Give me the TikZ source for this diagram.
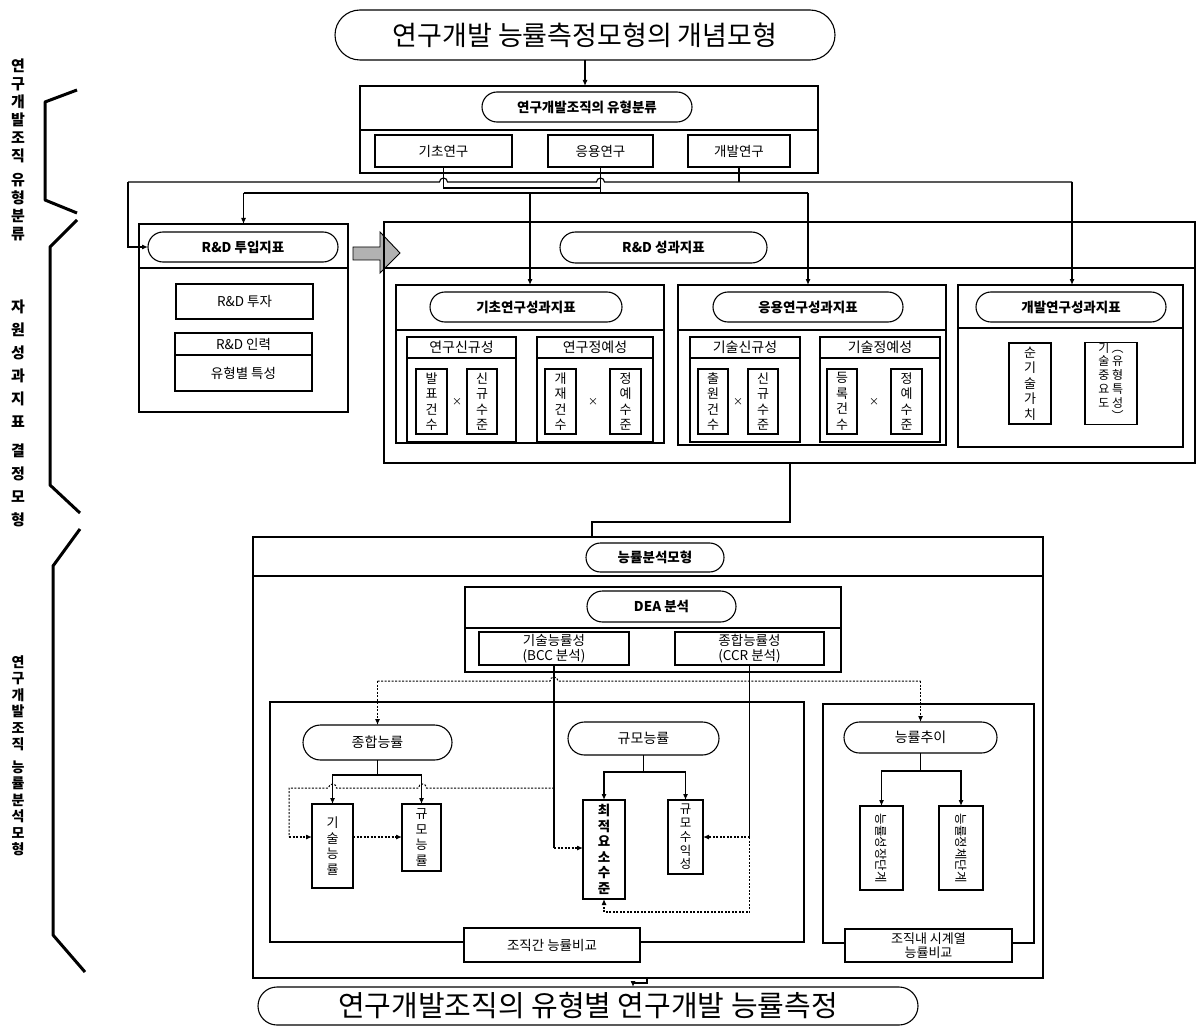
\documentclass[tikz,border=0pt]{standalone}
\usepackage{fontspec}
\setmainfont{Noto Sans CJK KR}
\usetikzlibrary{shapes.misc,arrows.meta}

\newcommand{\rb}[7][]{%
 \pgfmathsetmacro\rbX{(#3+#5)/2}%
 \pgfmathsetmacro\rbY{(#4+#6)/2}%
 \pgfmathsetmacro\rbW{#5-#3}%
 \pgfmathsetmacro\rbH{#6-#4}%
 \node[bx,minimum width=\rbW pt,minimum height=\rbH pt,#1] (#2) at (\rbX,\rbY) {#7};}

\tikzset{
 bx/.style={draw, line width=1.1pt, inner sep=0pt, outer sep=0pt, align=center, font=\fontsize{13.5}{15.5}\selectfont},
 pill/.style={rounded rectangle, font=\bfseries\fontsize{13.5}{15}\selectfont},
 vtx/.style={font=\fontsize{13}{15.5}\selectfont},
 arr/.style={-{Latex[length=6pt,width=5pt]}, line width=1.1pt},
 dsh/.style={dash pattern=on 2pt off 1.5pt, line width=1pt},
 ln/.style={line width=1.1pt},
 brk/.style={line width=3pt, line join=round},
 lab/.style={align=center, inner sep=0pt, font=\bfseries\fontsize{15}{17}\selectfont},
}

\begin{document}
\begin{tikzpicture}[x=1pt,y=-1pt]
\useasboundingbox (0,0) rectangle (1197,1027);
\fill[white] (0,0) rectangle (1197,1027);

% ---------- left labels and brackets ----------
\node[lab, font=\bfseries\fontsize{15}{18}\selectfont] (L1) at (18,150) {연\\구\\개\\발\\조\\직\\[6pt]유\\형\\분\\류};
\node[lab, font=\bfseries\fontsize{15}{23}\selectfont] (L2) at (18,413) {자\\원\\성\\과\\지\\표\\[6pt]결\\정\\모\\형};
\node[lab, font=\bfseries\fontsize{14}{16.5}\selectfont] (L3) at (18,756) {연\\구\\개\\발\\조\\직\\[6pt]능\\률\\분\\석\\모\\형};
\draw[brk] (77,90) -- (45,102) -- (45,200) -- (77,213);
\draw[brk] (77,220) -- (50,247) -- (50,485) -- (80,513);
\draw[brk] (80,529) -- (53,566) -- (53,935) -- (85,972);

% ---------- title ----------
\rb[pill,font=\fontsize{27}{30}\selectfont]{t0}{335}{10}{835}{60}{연구개발 능률측정모형의 개념모형}

% ---------- top box ----------
\rb{tb}{360}{86}{818}{173}{}
\draw[ln] (tb.west |- 0,130) -- (tb.east |- 0,130);
\rb[pill]{p1}{482}{92}{692}{122}{연구개발조직의 유형분류}
\rb{b1}{375}{135}{512}{167}{기초연구}
\rb{b2}{548}{135}{653}{167}{응용연구}
\rb{b3}{688}{135}{790}{167}{개발연구}
\draw[arr] (t0.south) -- (t0.south |- tb.north);

% ---------- R&D input box ----------
\rb{ib}{139}{224}{348}{412}{}
\draw[ln] (ib.west |- 0,268) -- (ib.east |- 0,268);
\rb[pill]{p2}{148}{232}{338}{262}{R\&D 투입지표}
\rb{i1}{176}{284}{313}{319}{R\&D 투자}
\rb{i2}{175}{333}{312}{391}{}
\draw[ln] (i2.west |- 0,355) -- (i2.east |- 0,355);
\node[font=\fontsize{13.5}{15}\selectfont] (i2a) at (243.5,344) {R\&D 인력};
\node[font=\fontsize{13.5}{15}\selectfont] (i2b) at (243.5,373) {유형별 특성};

% ---------- block arrow ----------
\filldraw[fill=black!30, draw=black, line width=0.9pt] (353,247) -- (380,247) -- (380,232) -- (400,253) -- (380,273) -- (380,260) -- (353,260) -- cycle;

% ---------- R&D output box ----------
\rb{ob}{384}{222}{1195}{463}{}
\draw[ln] (ob.west |- 0,268) -- (ob.east |- 0,268);
\rb[pill]{p3}{560}{232}{767}{263}{R\&D 성과지표}

% basic research
\rb{s1}{396}{285}{664}{443}{}
\draw[ln] (s1.west |- 0,330) -- (s1.east |- 0,330);
\rb[pill]{q1}{430}{292}{622}{322}{기초연구성과지표}
\rb{g11}{407}{337}{516}{442}{}
\draw[ln] (g11.west |- 0,358) -- (g11.east |- 0,358);
\node[font=\fontsize{14}{15}\selectfont] (g11t) at (461.5,347.5) {연구신규성};
\rb[vtx]{v111}{416}{369}{447}{434}{발\\표\\건\\수}
\rb[vtx]{v112}{467}{369}{497}{434}{신\\규\\수\\준}
\node (x11) at (457,402) {×};
\rb{g12}{537}{337}{653}{442}{}
\draw[ln] (g12.west |- 0,358) -- (g12.east |- 0,358);
\node[font=\fontsize{14}{15}\selectfont] (g12t) at (595,347.5) {연구정예성};
\rb[vtx]{v121}{545}{369}{576}{434}{개\\재\\건\\수}
\rb[vtx]{v122}{610}{369}{641}{434}{정\\예\\수\\준}
\node (x12) at (593,402) {×};

% applied research
\rb{s2}{678}{285}{946}{445}{}
\draw[ln] (s2.west |- 0,330) -- (s2.east |- 0,330);
\rb[pill]{q2}{713}{292}{903}{322}{응용연구성과지표}
\rb{g21}{690}{337}{800}{442}{}
\draw[ln] (g21.west |- 0,358) -- (g21.east |- 0,358);
\node[font=\fontsize{14}{15}\selectfont] (g21t) at (745,347.5) {기술신규성};
\rb[vtx]{v211}{698}{369}{728}{434}{출\\원\\건\\수}
\rb[vtx]{v212}{748}{369}{778}{434}{신\\규\\수\\준}
\node (x21) at (738,402) {×};
\rb{g22}{820}{337}{940}{442}{}
\draw[ln] (g22.west |- 0,358) -- (g22.east |- 0,358);
\node[font=\fontsize{14}{15}\selectfont] (g22t) at (880,347.5) {기술정예성};
\rb[vtx]{v221}{827}{369}{857}{434}{등\\록\\건\\수}
\rb[vtx]{v222}{891}{369}{922}{434}{정\\예\\수\\준}
\node (x22) at (874,402) {×};

% development research
\rb{s3}{958}{285}{1183}{447}{}
\draw[ln] (s3.west |- 0,328) -- (s3.east |- 0,328);
\rb[pill]{q3}{976}{292}{1166}{322}{개발연구성과지표}
\rb[vtx]{v31}{1009}{343}{1051}{424}{순\\기\\술\\가\\치}
\rb[font=\fontsize{12}{13}\selectfont]{v32}{1085}{343}{1137}{424}{\begin{tabular}{@{}c@{\hspace{2pt}}c@{}}기&︵\\술&유\\중&형\\요&특\\도&성\\ &︶\end{tabular}}

% ---------- top connectors ----------
\coordinate (aL) at (128,182);
\coordinate (aR) at (1072,182);
\draw[ln] (b3.south) -- (b3.south |- aL);
\draw[ln] (aL) -- (439.5,182) arc[start angle=180,end angle=0,radius=4pt] -- (596.5,182) arc[start angle=180,end angle=0,radius=4pt] -- (aR);
\draw[arr] (aL) |- (p2.west);
\draw[arr] (aR) -- (aR |- s3.north);
\draw[ln] (b1.south) |- (b2.south |- 0,188);
\draw[ln] (b2.south) -- (b2.south |- 0,193);
\coordinate (bL) at (243.5,193);
\coordinate (bR) at (808,193);
\draw[ln] (bL) -- (bR);
\draw[arr] (bL) -- (bL |- ib.north);
\draw[arr] (s1.north |- bL) -- (s1.north);
\draw[arr] (bR) -- (bR |- s2.north);

% ---------- efficiency analysis ----------
\rb{eb}{253}{537}{1043}{978}{}
\draw[ln] (eb.west |- 0,576) -- (eb.east |- 0,576);
\rb[pill]{pe}{586}{543}{724}{572}{능률분석모형}
\draw[ln] (ob.south -| 790,0) -- (790,522) -| (eb.north -| 592,0);

\rb{db}{465}{587}{841}{672}{}
\draw[ln] (db.west |- 0,628) -- (db.east |- 0,628);
\rb[pill]{pd}{587}{591}{736}{622}{DEA 분석}
\rb{bb}{479}{632}{629}{665}{기술능률성\\(BCC 분석)}
\rb{cb}{675}{632}{824}{665}{종합능률성\\(CCR 분석)}

\rb{lb}{270}{702}{804}{942}{}
\rb{rb}{823}{704}{1034}{943}{}

\rb[pill,font=\fontsize{14}{15}\selectfont]{pa}{303}{725}{452}{760}{종합능률}
\rb[vtx]{va1}{312}{804}{353}{888}{기\\술\\능\\률}
\rb[vtx]{va2}{402}{804}{441}{871}{규\\모\\능\\률}
\rb[pill,font=\fontsize{14}{15}\selectfont]{pb}{568}{722}{719}{755}{규모능률}
\rb[vtx,font=\bfseries\fontsize{13.5}{15.5}\selectfont]{vb1}{583}{800}{625}{899}{최\\적\\요\\소\\수\\준}
\rb[vtx,font=\fontsize{12.5}{13.8}\selectfont]{vb2}{668}{800}{703}{874}{규\\모\\수\\익\\성}
\rb[pill,font=\fontsize{14}{15}\selectfont]{pc}{844}{722}{997}{753}{능률추이}
\rb{vc1}{860}{806}{903}{890}{}
\rb{vc2}{939}{806}{983}{890}{}
\node[rotate=-90,font=\fontsize{12.5}{14}\selectfont] (vc1t) at (vc1) {능률성장단계};
\node[rotate=-90,font=\fontsize{12.5}{14}\selectfont] (vc2t) at (vc2) {능률정체단계};

\rb[fill=white]{la}{464}{928}{640}{962}{조직간 능률비교}
\rb[fill=white,font=\fontsize{13}{14.5}\selectfont]{ra}{845}{929}{1012}{962}{조직내 시계열\\능률비교}

% trees
\draw[arr] (pa.south) -- ++(0,15) -| (va1.north);
\draw[arr] (pa.south) -- ++(0,15) -| (va2.north);
\draw[arr] (pb.south) -- ++(0,17) -| (vb1.north);
\draw[arr] (pb.south) -- ++(0,17) -| (vb2.north);
\draw[arr] (pc.south) -- ++(0,18) -| (vc1.north);
\draw[arr] (pc.south) -- ++(0,18) -| (vc2.north);

% DEA connectors
\draw[dsh] (377.5,681) -- (550,681) arc[start angle=180,end angle=0,radius=4pt] -- (920.5,681);
\draw[dsh,arr] (pa.north |- 0,681) -- (pa.north);
\draw[dsh,arr] (pc.north |- 0,681) -- (pc.north);
\draw[ln] (bb.south) -- (bb.south |- 0,848);
\draw[dsh,arr] (bb.south |- 0,848) -- (vb1.west |- 0,848);
\draw[dsh] (bb.south |- 0,788) -- (426.5,788) arc[start angle=0,end angle=180,radius=4pt] -- (336.5,788) arc[start angle=0,end angle=180,radius=4pt] -- (289,788) -- (289,837);
\draw[dsh,arr] (289,837) -- (va1.west |- 0,837);
\draw[dsh,arr] (va1.east |- 0,837) -- (va2.west |- 0,837);
\draw[ln] (cb.south) -- (cb.south |- 0,837);
\draw[dsh,arr] (cb.south |- 0,837) -- (vb2.east |- 0,837);
\draw[dsh,arr] (cb.south |- 0,837) -- (cb.south |- 0,912) -| (vb1.south);

% ---------- final ----------
\rb[pill,font=\fontsize{29}{32}\selectfont]{pf}{258}{987}{918}{1025}{연구개발조직의 유형별 연구개발 능률측정}
\draw[arr] (eb.south -| 647,0) -- (647,983) -| (pf.north -| 633,0);
\end{tikzpicture}
\end{document}
